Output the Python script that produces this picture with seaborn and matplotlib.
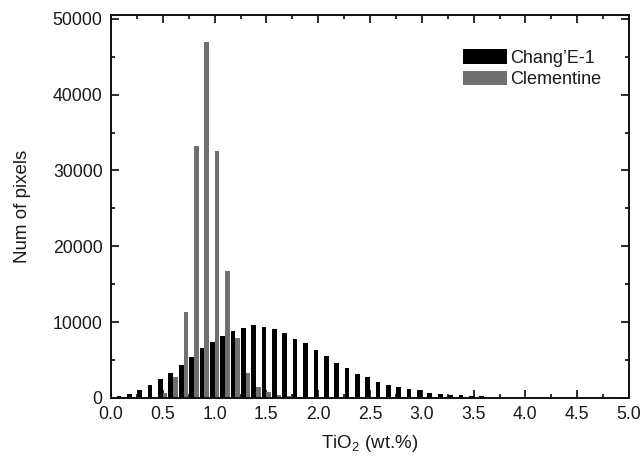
import pandas as pd
import seaborn as sns
import matplotlib
matplotlib.use("Agg")
import matplotlib.pyplot as plt
from matplotlib.ticker import MultipleLocator, FormatStrFormatter

# TiO2 bin centres (wt.%)
tio2_bins = [0.1, 0.2, 0.3, 0.4, 0.5, 0.6, 0.7, 0.8, 0.9, 1.0,
             1.1, 1.2, 1.3, 1.4, 1.5, 1.6, 1.7, 1.8, 1.9, 2.0,
             2.1, 2.2, 2.3, 2.4, 2.5, 2.6, 2.7, 2.8, 2.9, 3.0,
             3.1, 3.2, 3.3, 3.4, 3.5, 3.6, 3.7, 3.8, 3.9, 4.0,
             4.1, 4.2, 4.3, 4.4, 4.5, 4.6, 4.7, 4.8, 4.9, 5.0]

# Pixel counts per bin
chang_e1 = [300, 500, 1000, 1700, 2500, 3350, 4400, 5350, 6550, 7400,
            8150, 8900, 9250, 9600, 9350, 9050, 8600, 7750, 7200, 6350,
            5550, 4600, 3900, 3200, 2750, 2150, 1700, 1400, 1150, 1000,
            700, 550, 450, 350, 250, 200, 150, 120, 90, 70,
            50, 40, 30, 20, 15, 10, 8, 5, 4, 3]
clementine = [0, 0, 30, 120, 650, 2800, 11300, 33200, 46900, 32600,
              16700, 7900, 3350, 1450, 850, 400, 200, 100, 60, 40,
              30, 20, 15, 10, 8, 5, 4, 3, 2, 0,
              0, 0, 0, 0, 0, 0, 0, 0, 0, 0,
              0, 0, 0, 0, 0, 0, 0, 0, 0, 0]

series_names = ["Chang\u2019E-1", "Clementine"]
series_colors = ["#000000", "#707070"]

df = pd.concat([
    pd.DataFrame({"TiO2": tio2_bins, "Pixels": chang_e1, "Dataset": series_names[0]}),
    pd.DataFrame({"TiO2": tio2_bins, "Pixels": clementine, "Dataset": series_names[1]}),
], ignore_index=True)

sns.set_style("ticks")
plt.rcParams["font.family"] = ["Liberation Sans", "DejaVu Sans"]
plt.rcParams["mathtext.fontset"] = "custom"
plt.rcParams["mathtext.rm"] = "Liberation Sans"
plt.rcParams["mathtext.it"] = "Liberation Sans:italic"
plt.rcParams["text.color"] = "#1a1a1a"
plt.rcParams["axes.labelcolor"] = "#1a1a1a"
plt.rcParams["xtick.color"] = "#1a1a1a"
plt.rcParams["ytick.color"] = "#1a1a1a"

fig = plt.figure(figsize=(6.44, 4.58), dpi=100)
ax = fig.add_axes([111 / 644, 1 - 398 / 458, 518 / 644, 383 / 458])

sns.barplot(data=df, x="TiO2", y="Pixels", hue="Dataset", native_scale=True,
            palette=series_colors, saturation=1, width=0.9, dodge=True,
            errorbar=None, linewidth=0, ax=ax)

ax.set_xlim(0, 5.0)
ax.set_ylim(0, 50500)
ax.xaxis.set_major_locator(MultipleLocator(0.5))
ax.xaxis.set_minor_locator(MultipleLocator(0.25))
ax.yaxis.set_major_locator(MultipleLocator(10000))
ax.yaxis.set_minor_locator(MultipleLocator(5000))
ax.xaxis.set_major_formatter(FormatStrFormatter("%.1f"))

ax.tick_params(which="both", direction="in", top=True, right=True,
               labelsize=12.7, width=1.3)
ax.tick_params(which="major", length=6, pad=6)
ax.tick_params(which="minor", length=3)
for s in ax.spines.values():
    s.set_linewidth(1.4)
    s.set_color("#111111")

ax.set_xlabel("TiO$_2$ (wt.%)", fontsize=13.5, labelpad=7)
ax.set_ylabel("Num of pixels", fontsize=13.5, labelpad=16)

handles, labels = ax.get_legend_handles_labels()
ax.legend(handles, labels, loc="upper left", bbox_to_anchor=(0.68, 0.91),
          frameon=False, fontsize=13, handlelength=2.4, handleheight=0.85,
          handletextpad=0.2, labelspacing=0.2, borderpad=0, borderaxespad=0)

fig.savefig("out.png", dpi=100)
